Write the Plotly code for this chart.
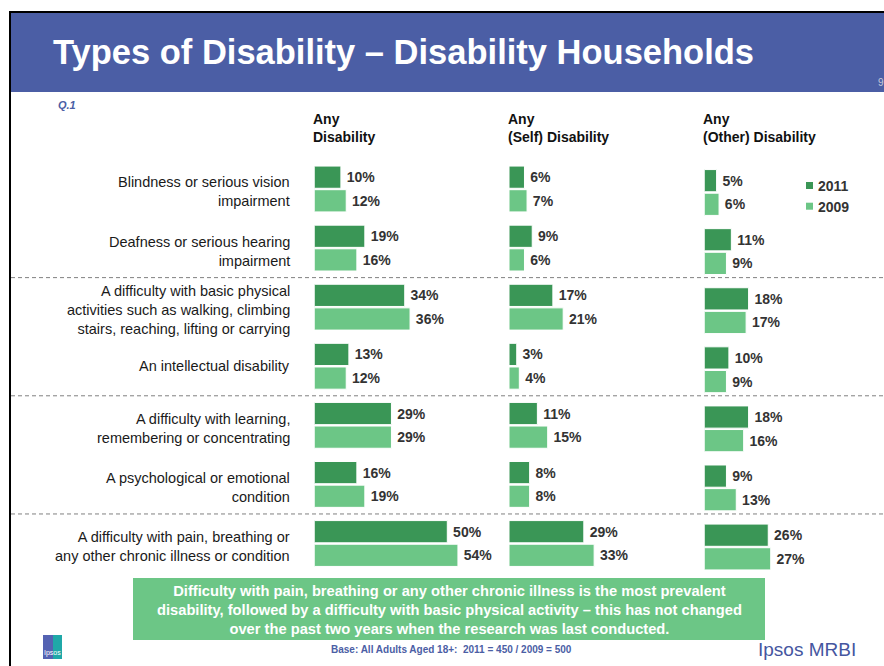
import plotly.graph_objects as go

# ---- data -------------------------------------------------------------
categories = [
    "Blindness or serious vision<br>impairment",
    "Deafness or serious hearing<br>impairment",
    "A difficulty with basic physical<br>activities such as walking, climbing<br>stairs, reaching, lifting or carrying",
    "An intellectual disability",
    "A difficulty with learning,<br>remembering or concentrating",
    "A psychological or emotional<br>condition",
    "A difficulty with pain, breathing or<br>any other chronic illness or condition",
]
panel_titles = ["Any<br>Disability", "Any<br>(Self) Disability", "Any<br>(Other) Disability"]
years = ["2011", "2009"]

any_2011 = [10, 19, 34, 13, 29, 16, 50]
any_2009 = [12, 16, 36, 12, 29, 19, 54]
self_2011 = [6, 9, 17, 3, 11, 8, 29]
self_2009 = [7, 6, 21, 4, 15, 8, 33]
other_2011 = [5, 11, 18, 10, 18, 9, 26]
other_2009 = [6, 9, 17, 9, 16, 13, 27]

title_text = "Types of Disability – Disability Households"
question_text = "Q.1"
summary_text = ("Difficulty with pain, breathing or any other chronic illness is the most prevalent<br>"
                "disability, followed by a difficulty with basic physical activity – this has not changed<br>"
                "over the past two years when the research was last conducted.")
base_text = "Base: All Adults Aged 18+:  2011 = 450 / 2009 = 500"
brand_text = "Ipsos MRBI"

# ---- styling ----------------------------------------------------------
W, H = 884, 666
DARK = "#3A9656"
LIGHT = "#6CC686"
BAND = "#4B5EA5"
FONT = "Liberation Sans, Arial, sans-serif"
colors = [DARK, LIGHT]


def px(x):
    return x / W


def py(y):
    return 1 - y / H


# panel layout: left edge (px) and px per percentage point
panels = [
    dict(left=314.3, scale=2.66, shift=0.0, data=(any_2011, any_2009)),
    dict(left=509.0, scale=2.58, shift=0.0, data=(self_2011, self_2009)),
    dict(left=704.3, scale=2.46, shift=3.5, data=(other_2011, other_2009)),
]
XMAX = 60
row_top, row_bottom = 159.45, 573.05  # pixel extent of the category band

fig = go.Figure()
layout_axes = {}
for i, p in enumerate(panels):
    n = "" if i == 0 else str(i + 1)
    xa, ya = "x" + n, "y" + n
    for s, (yr, vals) in enumerate(zip(years, p["data"])):
        fig.add_trace(go.Bar(
            y=list(range(len(categories))), x=vals, orientation="h",
            name=yr, marker=dict(color=colors[s], line=dict(color="white", width=1)),
            texttemplate="\u2009%{x}%", textposition="outside",
            textfont=dict(family=FONT, size=14, color="#333333", weight="bold"),
            constraintext="none", cliponaxis=False,
            xaxis=xa, yaxis=ya, showlegend=False, offsetgroup=str(s),
            hoverinfo="skip",
        ))
    layout_axes["xaxis" + n] = dict(
        domain=[px(p["left"]), px(p["left"] + p["scale"] * XMAX)],
        range=[0, XMAX], visible=False, anchor=ya)
    layout_axes["yaxis" + n] = dict(
        domain=[py(row_bottom + p["shift"]), py(row_top + p["shift"])],
        range=[len(categories) - 0.5, -0.5], visible=False, anchor=xa)

shapes = []
# frame and title band
shapes.append(dict(type="rect", xref="paper", yref="paper", x0=px(9), x1=px(884), y0=py(11), y1=py(13),
                   fillcolor="black", line=dict(width=0), layer="below"))
shapes.append(dict(type="rect", xref="paper", yref="paper", x0=px(9), x1=px(11), y0=py(11), y1=0,
                   fillcolor="black", line=dict(width=0), layer="below"))
shapes.append(dict(type="rect", xref="paper", yref="paper", x0=px(11), x1=1, y0=py(13), y1=py(92),
                   fillcolor=BAND, line=dict(width=0), layer="below"))
# dashed separators between category groups
for b in [1.5, 3.5, 5.5]:
    shapes.append(dict(type="line", xref="paper", yref="y", x0=px(11), x1=1, y0=b, y1=b,
                       line=dict(color="#808080", width=1, dash="4px,3px"), layer="below"))
# legend swatches
for k, (c, yc) in enumerate(zip(colors, [185.5, 206.2])):
    shapes.append(dict(type="rect", xref="paper", yref="paper", x0=px(806), x1=px(813),
                       y0=py(yc - 3.5), y1=py(yc + 3.5), fillcolor=c, line=dict(width=0)))
# summary box
shapes.append(dict(type="rect", xref="paper", yref="paper", x0=px(133), x1=px(765), y0=py(578), y1=py(640),
                   fillcolor=LIGHT, line=dict(width=0), layer="below"))
# small brand mark
shapes.append(dict(type="rect", xref="paper", yref="paper", x0=px(43), x1=px(62), y0=py(635), y1=py(659),
                   fillcolor="#5462B2", line=dict(width=0)))
shapes.append(dict(type="rect", xref="paper", yref="paper", x0=px(53), x1=px(62), y0=py(635), y1=py(659),
                   fillcolor="#1FA8A8", line=dict(width=0)))

ann = []
ann.append(dict(text=title_text, x=px(51), y=py(52), xref="paper", yref="paper", xanchor="left",
                yanchor="middle", showarrow=False,
                font=dict(family=FONT, size=34.5, color="white", weight="bold")))
ann.append(dict(text="9", x=px(876), y=py(82), xref="paper", yref="paper", xanchor="left",
                yanchor="middle", showarrow=False, font=dict(family=FONT, size=10, color="#C8C8D8")))
ann.append(dict(text="<b><i>" + question_text + "</i></b>", x=px(56), y=py(105), xref="paper", yref="paper",
                xanchor="left", yanchor="middle", showarrow=False,
                font=dict(family=FONT, size=11, color=BAND)))
for i, (t, p) in enumerate(zip(panel_titles, panels)):
    ann.append(dict(text=t, x=px(p["left"] - 3), y=py(128), xref="paper", yref="paper",
                    xanchor="left", yanchor="middle", align="left", showarrow=False,
                    font=dict(family=FONT, size=14, color="#111111", weight="bold")))
for i, c in enumerate(categories):
    multi = "<br>" in c
    ann.append(dict(text=c, x=px(292), y=i, xref="paper", yref="y", xanchor="right", yanchor="middle",
                    align="right", showarrow=False, yshift=-3 if multi else 0,
                    font=dict(family=FONT, size=14.5, color="#1A1A1A")))
for yr, yc in zip(years, [185.5, 206.5]):
    ann.append(dict(text=yr, x=px(816), y=py(yc), xref="paper", yref="paper", xanchor="left",
                    yanchor="middle", showarrow=False,
                    font=dict(family=FONT, size=14, color="#333333", weight="bold")))
ann.append(dict(text=summary_text, x=px(449), y=py(610), xref="paper", yref="paper", xanchor="center",
                yanchor="middle", align="center", showarrow=False,
                font=dict(family=FONT, size=14.7, color="white", weight="bold")))
ann.append(dict(text=base_text, x=px(452), y=py(649), xref="paper", yref="paper", xanchor="center",
                yanchor="middle", showarrow=False,
                font=dict(family=FONT, size=10, color=BAND, weight="bold")))
ann.append(dict(text=brand_text, x=px(858), y=py(649), xref="paper", yref="paper", xanchor="right",
                yanchor="middle", showarrow=False,
                font=dict(family=FONT, size=19, color="#4556A0")))
ann.append(dict(text="Ipsos", x=px(52.5), y=py(653), xref="paper", yref="paper", xanchor="center",
                yanchor="middle", showarrow=False,
                font=dict(family=FONT, size=7, color="white")))

fig.update_layout(
    width=W, height=H, margin=dict(l=0, r=0, t=0, b=0),
    paper_bgcolor="white", plot_bgcolor="rgba(0,0,0,0)",
    barmode="group", bargap=0.2, bargroupgap=0.06,
    shapes=shapes, annotations=ann, showlegend=False,
    **layout_axes,
)

fig.write_html("out.html", config={"displayModeBar": False})
